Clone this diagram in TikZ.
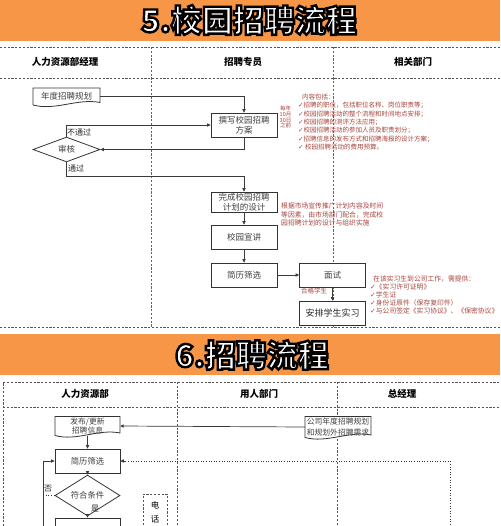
\documentclass[tikz,border=0pt]{standalone}
\usepackage{fontspec}
\setmainfont{Noto Sans CJK SC}
\newfontfamily\symf{DejaVu Sans}
\usetikzlibrary{arrows.meta,shapes.geometric,calc}
\definecolor{banner}{HTML}{F79646}
\definecolor{redtxt}{HTML}{A8443C}
\definecolor{boxtxt}{HTML}{404040}
\definecolor{boxline}{HTML}{333333}
\definecolor{linec}{HTML}{3A3A3A}
\definecolor{sepc}{HTML}{4F6B6B}
\definecolor{dashc}{HTML}{555555}
\newcommand{\ck}{{\symf ✓}}
\newcommand{\fs}[2]{\fontsize{#1}{#2}\selectfont}
\newcommand{\outlined}[1]{\special{pdf:code 0 0 0 RG 2 Tr 2.4 w}#1\special{pdf:code 0 Tr}}
\newcommand{\docnode}[6][]{%
  \draw[line width=0.8pt, draw=boxline, fill=white]
    ($(#3)+({-#4/2},{#5/2})$) -- ($(#3)+({-#4/2},{-#5/2})$) -- ($(#3)+({#4/2},{-#5/2})$)
    -- ($(#3)+({#4/2},{#5/2-2.5})$) .. controls ($(#3)+({#4/6},{#5/2-7})$) and ($(#3)+({-#4/6},{#5/2+6})$) .. ($(#3)+({-#4/2},{#5/2})$) -- cycle;
  \node[docn, minimum width=#4pt, minimum height=#5pt, #1] (#2) at (#3) {#6};}
\tikzset{
  titlefont/.style={font=\fs{31}{31}\bfseries, inner sep=0pt, text=white},
  hdr/.style={font=\fs{9.5}{10}\bfseries, inner sep=0pt},
  box/.style={draw=boxline, line width=0.8pt, fill=white, minimum width=66pt, minimum height=24pt, inner sep=0.5pt, align=center, text=boxtxt, font=\fs{8.5}{9.6}},
  docn/.style={inner sep=0pt, align=center, text=boxtxt, font=\fs{8.5}{9.6}},
  dia/.style={diamond, draw=boxline, line width=0.8pt, fill=white, minimum width=67pt, minimum height=19pt, inner sep=0pt, text=boxtxt, font=\fs{8.5}{9.6}},
  arr/.style={draw=linec, line width=0.7pt, -{Triangle[length=3.5pt,width=3.2pt]}},
  lbl/.style={text=black!85, font=\fs{8}{9}, inner sep=0pt},
  red/.style={text=redtxt, align=left, inner sep=0pt},
  hdash/.style={draw=dashc, line width=0.7pt, dash pattern=on 2.2pt off 1.6pt},
  vdash/.style={draw=sepc, line width=0.7pt, dash pattern=on 2.2pt off 1.6pt},
  dots/.style={draw=linec, line width=0.8pt, dash pattern=on 1pt off 1.6pt},
}
\begin{document}
\begin{tikzpicture}[x=1pt,y=-1pt]
\useasboundingbox (0,0) rectangle (500,526);
\clip (0,0) rectangle (500,526);
\fill[white] (0,0) rectangle (500,526);
% ===== Section 5 =====
\fill[banner] (0,0) rectangle (500,41);
\node[titlefont] (t1) at (249,20) {\outlined{5.校园招聘流程}};
\draw[hdash] (0,47) -- (500,47);
\draw[hdash] (0,78) -- (500,78);
\draw[hdash] (0,327) -- (500,327);
\draw[vdash] (151,47) -- (151,327);
\draw[vdash] (333,47) -- (333,327);
\node[hdr] (h1) at (65,62) {人力资源部经理};
\node[hdr] (h2) at (243,62) {招聘专员};
\node[hdr] (h3) at (413,62) {相关部门};

\docnode{plan}{66.5,96.5}{67}{17}{年度招聘规划}
\node[box] (write) at (244,125) {撰写校园招聘\\方案};
\node[dia] (review) at (66.5,149.5) {审核};
\node[box, minimum height=20pt] (design) at (244,202) {完成校园招聘\\计划的设计};
\node[box] (talk) at (244,237) {校园宣讲};
\node[box] (screen) at (244,275) {简历筛选};
\node[box] (interview) at (332.5,275) {面试};
\node[box, font=\fs{9}{10}, text=black!85] (intern) at (332.5,313) {安排学生实习};

\draw[arr] (plan.east) -| (write.north);
\draw[arr] (review.north) |- (write.west);
\draw[arr] (write.south) |- (review.east);
\draw[arr] (review.south) -- ++(0,14) -| (design.north);
\draw[arr] (design.south) -- (talk.north);
\draw[arr] (talk.south) -- (screen.north);
\draw[arr] (screen.east) -- (interview.west);
\draw[arr] (interview.south) -- (intern.north);

\node[lbl, anchor=west] (l1) at (67,132) {不通过};
\node[lbl, anchor=west] (l2) at (68,168) {通过};
\node[red, anchor=west, font=\fs{6.5}{7}] (l3) at (301,291) {合格学生};

\node[red, align=center, font=\fs{5.5}{5.9}] (deadline) at (285.5,117) {每年\\10月\\30日\\之前};
\node[red, anchor=north west, font=\fs{6.5}{8.4}] (content) at (298,93.5) {\hspace*{4pt}内容包括：\\
\ck 招聘的职位，包括职位名称、岗位职责等；\\
\ck 校园招聘活动的整个流程和时间地点安排；\\
\ck 校园招聘的测评方法应用；\\
\ck 校园招聘活动的参加人员及职责划分；\\
\ck 招聘信息的发布方式和招聘海报的设计方案；\\
\ck\ 校园招聘活动的费用预算。};
\node[red, anchor=north west, font=\fs{6.8}{8.3}] (mkt) at (281,203) {根据市场宣传推广计划内容及时间\\等因素，由市场部门配合，完成校\\园招聘计划的设计与组织实施};
\node[red, anchor=north west, font=\fs{6.8}{8}] (need) at (370,275.5) {\hspace*{3pt}在该实习生到公司工作，需提供：\\\ck《实习许可证明》\\\ck 学生证\\\ck 身份证原件（保存复印件）\\\ck 与公司签定《实习协议》、《保密协议》};

% ===== Section 6 =====
\fill[banner] (0,334) rectangle (500,375);
\node[titlefont] (t2) at (252,355) {\outlined{6.招聘流程}};
\draw[hdash] (3,530) -- (3,382) -- (510,382);
\draw[hdash] (3,407) -- (510,407);
\draw[hdash] (177,382) -- (177,530);
\draw[hdash] (337,382) -- (337,530);
\node[hdr] (g1) at (85,394) {人力资源部};
\node[hdr] (g2) at (259,394) {用人部门};
\node[hdr] (g3) at (402,394) {总经理};

\docnode[font=\fs{7.8}{9.2}]{publish}{87.5,426}{65}{19}{发布/更新\\招聘信息}
\docnode[font=\fs{7.8}{10.5}]{plan2}{338,427}{66}{21}{公司年度招聘规划\\和规划外招聘需求}
\node[box, minimum width=65pt, font=\fs{8.3}{9.6}] (screen2) at (87.5,461) {简历筛选};
\node[dia, minimum width=65pt, minimum height=16pt, font=\fs{8.3}{9.6}] (cond) at (87.5,495.5) {符合条件};
\node[box, minimum width=65pt] (notify) at (87.5,530) {};
\coordinate (loop) at (43,530);
\coordinate (d2) at (450,530);

\draw[arr] (plan2.west) -- (publish.east);
\draw[arr] (publish.south) -- (screen2.north);
\draw[arr] (screen2.south) -- (cond.north);
\draw[arr] (cond.south) -- (notify.north);
\draw[dots, -{Triangle[length=3.5pt,width=3.2pt]}] (d2) |- (screen2.east);
\draw[dots] (cond.west) -- (cond.west -| loop);
\draw[arr] (loop) |- (screen2.west);
\node[lbl] (no) at (48,489) {否};
\node[lbl, anchor=west] (yes) at (91,509) {是};

\draw[hdash] (143,540) -- (143,494) -- (167,494) -- (167,540);
\node[align=center, font=\fs{8.5}{14}, inner sep=0pt] (phone) at (155,512) {电\\话};
\end{tikzpicture}
\end{document}
